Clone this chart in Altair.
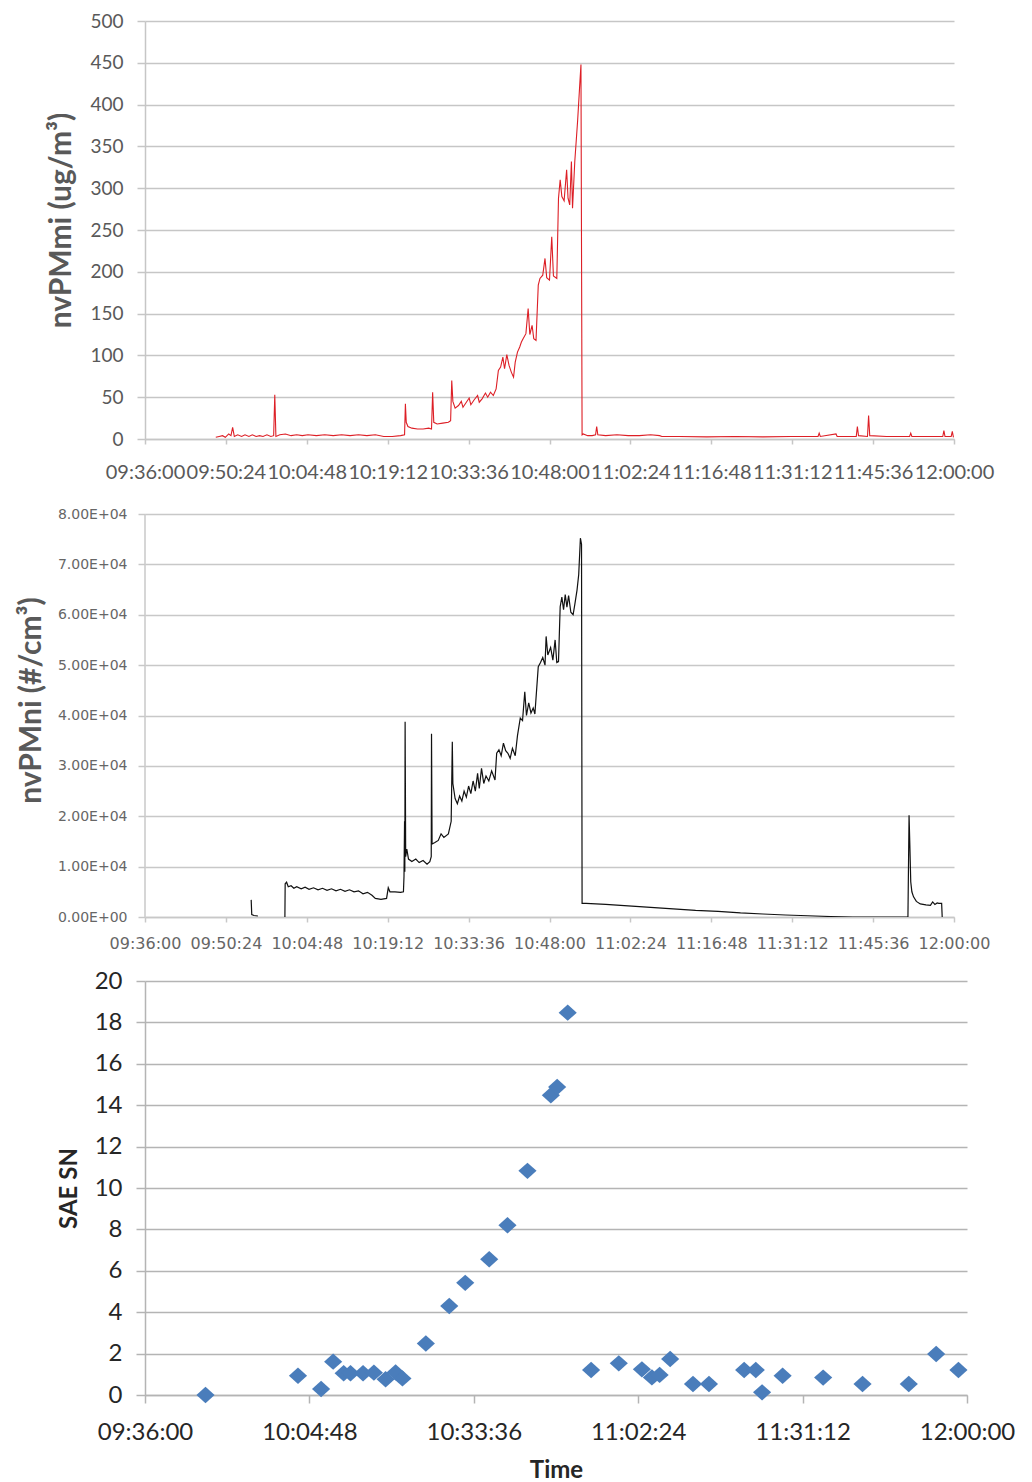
import json
import altair as alt
import pandas as pd

# ---------------- data (time = minutes after 09:36:00) ----------------
# Panel 1: nvPMmi (ug/m3)
mi_time = [12.6, 13.2, 13.8, 14.3, 14.9, 15.3, 15.6, 15.9, 16.5, 17.2, 17.8, 18.5, 19.1, 19.8,
           20.4, 21.0, 21.7, 22.4, 22.9, 23.1, 23.3, 24.0, 25.0, 26.0, 27.0, 28.0, 29.0, 30.5,
           32.0, 33.5, 35.0, 36.5, 38.0, 39.5, 41.0, 42.5, 44.0, 45.5, 46.2, 46.35, 46.5, 46.8,
           47.5, 48.5, 49.5, 50.5, 51.0, 51.2, 51.4, 52.0, 53.0, 54.0, 54.4, 54.6, 54.8, 55.2,
           55.8, 56.3, 56.6, 57.2, 57.7, 58.0, 58.6, 59.2, 59.5, 60.0, 60.6, 61.0, 61.5, 62.0,
           62.5, 62.9, 63.3, 63.7, 64.0, 64.4, 64.8, 65.2, 65.6, 65.9, 66.3, 66.7, 67.0, 67.3,
           67.8, 68.2, 68.5, 68.9, 69.2, 69.6, 70.0, 70.3, 70.8, 71.2, 71.5, 72.0, 72.4, 72.7,
           73.3, 73.6, 73.9, 74.2, 74.6, 75.05, 75.3, 75.6, 75.9, 76.1, 76.5, 77.0, 77.35, 77.6,
           77.8, 78.0, 78.8, 79.6, 80.2, 80.4, 80.6, 82.0, 84.0, 86.0, 88.0, 90.0, 91.6, 92.0,
           95.0, 100.0, 105.0, 110.0, 115.0, 119.8, 120.0, 120.2, 123.0, 123.2, 123.4, 126.6,
           126.8, 127.0, 128.6, 128.8, 129.0, 132.0, 136.1, 136.3, 136.5, 140.0, 142.0, 142.2,
           142.4, 143.5, 143.7, 143.9]
mi_value = [2, 3, 4, 2, 6, 4, 14, 3, 5, 3, 5, 3, 5, 3,
            4, 3, 5, 3, 4, 53, 3, 5, 6, 4, 5, 4, 5, 4,
            5, 4, 5, 4, 5, 4, 5, 3, 3, 4, 5, 42, 20, 15,
            13, 12, 12, 13, 12, 56, 20, 18, 19, 20, 22, 70, 45, 37,
            40, 45, 38, 44, 49, 41, 47, 52, 44, 48, 55, 50, 56, 52,
            60, 82, 86, 98, 84, 101, 88, 80, 74, 92, 104, 110, 116, 120,
            126, 156, 125, 136, 120, 118, 184, 192, 196, 216, 193, 190, 242, 195,
            192, 288, 310, 290, 285, 322, 288, 280, 332, 276, 332, 380, 420, 448,
            5, 6, 4, 4, 5, 15, 5, 4, 5, 4, 4, 5, 4, 3,
            3, 2.5, 3, 2.5, 3, 3, 7, 3, 6, 3, 3, 3,
            15, 4, 3, 28, 4, 3, 3, 7, 3, 3, 3, 10,
            3, 3, 9, 2]

# Panel 2: nvPMni (#/cm3); segment 1 = short early trace, 2 = main trace
ni_time = [18.9, 19.0, 19.4, 20.1,
           24.9, 24.95, 25.2, 25.5, 26.0, 26.5, 27.0, 27.8, 28.5, 29.2, 30.0, 30.8, 31.6, 32.4,
           33.2, 34.0, 34.8, 35.6, 36.4, 37.2, 38.0, 38.8, 39.6, 40.4, 41.0, 42.0, 43.0, 43.3,
           43.6, 44.5, 45.5, 46.0, 46.1, 46.2, 46.25, 46.3, 46.4, 46.6, 46.9, 47.5, 48.2, 48.8,
           49.5, 50.2, 50.7, 50.95, 51.0, 51.1, 51.6, 52.2, 52.7, 53.2, 54.0, 54.5, 54.7, 54.8,
           55.2, 55.6, 56.0, 56.4, 56.8, 57.2, 57.6, 58.0, 58.4, 58.8, 59.2, 59.5, 59.9, 60.3,
           60.7, 61.2, 61.7, 62.3, 62.6, 63.0, 63.4, 63.8, 64.2, 64.6, 65.0, 65.4, 65.9, 66.3,
           66.8, 67.2, 67.6, 67.9, 68.3, 68.7, 69.1, 69.4, 70.0, 70.4, 70.8, 71.2, 71.4, 71.7,
           72.2, 72.6, 73.0, 73.3, 73.6, 73.9, 74.2, 74.5, 74.8, 75.1, 75.4, 75.8, 76.2, 76.5,
           76.9, 77.2, 77.5, 77.7, 77.8, 78.5, 82.0, 86.0, 90.0, 94.0, 98.0, 102.0, 106.0, 110.0,
           114.0, 118.0, 122.0, 126.0, 130.0, 135.8, 136.0, 136.15, 136.3, 136.5, 136.8, 137.3,
           138.0, 139.0, 139.8, 140.2, 140.6, 141.0, 141.3, 141.8, 141.9]
ni_value = [3400, 500, 300, 200,
            0, 6600, 6900, 6000, 6200, 5700, 6000, 5600, 5900, 5500, 5800, 5400, 5700, 5300,
            5600, 5200, 5500, 5100, 5400, 5000, 5200, 4600, 4900, 4300, 3700, 3500, 3700, 5800,
            5000, 5000, 4900, 5000, 8000, 19000, 9000, 38750, 12000, 13500, 11500, 11000, 11500, 10800,
            11200, 10500, 11000, 12000, 36400, 14500, 14800, 15200, 16500, 15800, 16500, 19000, 34800, 26500,
            23500, 22500, 24000, 23000, 25000, 23800, 26000, 24500, 27000, 25000, 28500, 25500, 29500, 26500,
            28000, 27000, 29000, 27200, 32500, 33200, 32000, 34500, 33000, 32500, 31500, 33500, 32000, 36000,
            39500, 39000, 44700, 40000, 42500, 40500, 41500, 40300, 49700, 50500, 51500, 50000, 55700, 52000,
            53500, 51000, 55000, 50500, 50700, 61600, 63500, 61000, 64000, 61500, 63800, 60500, 60000, 62000,
            64900, 68000, 75200, 74000, 2700, 2700, 2500, 2200, 1900, 1600, 1300, 1100, 800, 600,
            400, 250, 100, 0, 0, 0, 20200, 13900, 7000, 5000, 4000, 3100,
            2600, 2400, 2300, 3000, 2500, 2800, 2700, 2700, 0]
ni_segment = [1] * 4 + [2] * (len(ni_time) - 4)

# Panel 3: SAE SN
sn_time = [10.6, 26.8, 30.85, 32.96, 34.8, 36.0, 38.2, 40.1, 42.15, 43.9, 45.1, 49.2, 53.3,
           56.1, 60.3, 63.5, 67.0, 71.1, 72.2, 74.05, 78.15, 83.0, 87.05, 88.8, 90.15, 92.0,
           96.0, 98.8, 104.96, 107.0, 108.1, 111.7, 118.8, 125.7, 133.8, 138.6, 142.5]
sn_value = [0.0, 0.93, 0.29, 1.61, 1.05, 1.05, 1.05, 1.08, 0.76, 1.09, 0.8, 2.49, 4.3,
            5.42, 6.56, 8.2, 10.83, 14.48, 14.88, 18.47, 1.21, 1.53, 1.24, 0.85, 0.97, 1.74,
            0.53, 0.53, 1.21, 1.21, 0.13, 0.93, 0.84, 0.53, 0.53, 1.98, 1.21]

# ticks / labels
x_ticks_fine = [0, 14.4, 28.8, 43.2, 57.6, 72.0, 86.4, 100.8, 115.2, 129.6, 144.0]
x_labels_fine = ["09:36:00", "09:50:24", "10:04:48", "10:19:12", "10:33:36", "10:48:00",
                 "11:02:24", "11:16:48", "11:31:12", "11:45:36", "12:00:00"]
x_ticks_coarse = [0, 28.8, 57.6, 86.4, 115.2, 144.0]
x_labels_coarse = ["09:36:00", "10:04:48", "10:33:36", "11:02:24", "11:31:12", "12:00:00"]
mi_ticks = [0, 50, 100, 150, 200, 250, 300, 350, 400, 450, 500]
ni_ticks = [0, 10000, 20000, 30000, 40000, 50000, 60000, 70000, 80000]
ni_labels = ["0.00E+00", "1.00E+04", "2.00E+04", "3.00E+04", "4.00E+04",
             "5.00E+04", "6.00E+04", "7.00E+04", "8.00E+04"]
sn_ticks = [0, 2, 4, 6, 8, 10, 12, 14, 16, 18, 20]

df1 = pd.DataFrame({"t": mi_time, "v": mi_value, "i": range(len(mi_time))})
df2 = pd.DataFrame({"t": ni_time, "v": ni_value, "seg": ni_segment, "i": range(len(ni_time))})
df3 = pd.DataFrame({"t": sn_time, "v": sn_value})

fine_expr = json.dumps(x_labels_fine) + "[round(datum.value / 14.4)]"
coarse_expr = json.dumps(x_labels_coarse) + "[round(datum.value / 28.8)]"
ni_expr = json.dumps(ni_labels) + "[round(datum.value / 10000)]"

GRID1 = "#c6c6c6"
TXT1 = "#595959"

# ---------------- panel 1 ----------------
p1 = alt.Chart(df1).mark_line(color="#dd1f26", strokeWidth=1.1, clip=True).encode(
    x=alt.X("t:Q", scale=alt.Scale(domain=[0, 144], nice=False, zero=False),
            axis=alt.Axis(values=x_ticks_fine, labelExpr=fine_expr, title=None, grid=False,
                          domainColor=GRID1, domainWidth=1.5, tickColor=GRID1, tickWidth=1.5,
                          tickSize=5, labelFont="Lato", labelFontSize=20, labelColor=TXT1,
                          labelPadding=18, labelOverlap=False, labelFlush=False)),
    y=alt.Y("v:Q", scale=alt.Scale(domain=[0, 500], nice=False),
            axis=alt.Axis(values=mi_ticks, grid=True, gridColor=GRID1, gridWidth=1.5,
                          domainColor=GRID1, domainWidth=1.5, tickColor=GRID1, tickWidth=1.5,
                          tickSize=8, labelFont="Lato", labelFontSize=19, labelColor=TXT1,
                          labelPadding=14, labelOverlap=False,
                          title="nvPMmi (ug/m³)", titleFont="Lato", titleFontSize=30,
                          titleFontWeight="bold", titleColor=TXT1, titleAngle=270,
                          titleBaseline="middle", titleX=-84, titleY=199)),
    order=alt.Order("i:Q"),
).properties(width=809, height=418)

# ---------------- panel 2 ----------------
GRID2 = "#c8c8c8"
TXT2 = "#666666"
NI_TOP = 80000 * 414 / 403
line2 = alt.Chart(df2).mark_line(color="#111111", strokeWidth=1.2, clip=True).encode(
    x=alt.X("t:Q", scale=alt.Scale(domain=[0, 144], nice=False, zero=False),
            axis=alt.Axis(values=x_ticks_fine, labelExpr=fine_expr, title=None, grid=False,
                          domainColor=GRID2, domainWidth=1.5, tickColor=GRID2, tickWidth=1.5,
                          tickSize=5, labelFont="DejaVu Sans", labelFontSize=16, labelColor=TXT2,
                          labelPadding=13, labelOverlap=False, labelFlush=False)),
    y=alt.Y("v:Q", scale=alt.Scale(domain=[0, NI_TOP], nice=False),
            axis=alt.Axis(values=ni_ticks, labelExpr=ni_expr, grid=True, gridColor=GRID2,
                          gridWidth=1.5, domain=False, tickColor=GRID2, tickWidth=1.5,
                          tickSize=7, labelFont="DejaVu Sans", labelFontSize=14, labelColor=TXT2,
                          labelPadding=11, labelOverlap=False,
                          title="nvPMni (#/cm³)", titleFont="Lato", titleFontSize=30,
                          titleFontWeight="bold", titleColor=TXT1, titleAngle=270,
                          titleBaseline="middle", titleX=-114, titleY=197)),
    detail="seg:N",
    order=alt.Order("i:Q"),
)
axis2 = alt.Chart(pd.DataFrame({"a": [0]})).mark_rule(color=GRID2, strokeWidth=1.5).encode(
    x=alt.value(0), y=alt.datum(0), y2=alt.datum(80000))
p2 = alt.layer(axis2, line2).properties(width=809, height=414)

# ---------------- panel 3 ----------------
GRID3 = "#b4b4b4"
TXT3 = "#262626"
p3 = alt.Chart(df3).mark_point(
    shape="M-1,0L0,-0.9L1,0L0,0.9Z", filled=True, size=330, color="#4a7dbb", opacity=1
).encode(
    x=alt.X("t:Q", scale=alt.Scale(domain=[0, 144], nice=False, zero=False),
            axis=alt.Axis(values=x_ticks_coarse, labelExpr=coarse_expr, grid=False,
                          domainColor=GRID3, domainWidth=1.5, tickColor=GRID3, tickWidth=1.5,
                          tickSize=8, labelFont="Lato", labelFontSize=24, labelColor=TXT3,
                          labelPadding=17, labelOverlap=False, labelFlush=False,
                          title="Time", titleFont="Lato", titleFontSize=24,
                          titleFontWeight="bold", titleColor=TXT3, titleBaseline="middle",
                          titleY=75)),
    y=alt.Y("v:Q", scale=alt.Scale(domain=[0, 20], nice=False),
            axis=alt.Axis(values=sn_ticks, grid=True, gridColor=GRID3, gridWidth=1.5,
                          domainColor=GRID3, domainWidth=1.5, tickColor=GRID3, tickWidth=1.5,
                          tickSize=9, labelFont="Lato", labelFontSize=24, labelColor=TXT3,
                          labelPadding=14, labelOverlap=False,
                          title="SAE SN", titleFont="Lato", titleFontSize=24,
                          titleFontWeight="bold", titleColor=TXT3, titleAngle=270,
                          titleBaseline="middle", titleX=-76, titleY=207)),
).properties(width=822, height=414)

chart = alt.vconcat(p1, p2, p3, spacing=64, bounds="flush").properties(
    padding={"left": 8, "top": 4, "right": 5, "bottom": 0},
    background="white",
).configure_view(strokeWidth=0, strokeOpacity=0)

chart.save("out.html", embed_options={"renderer": "svg", "actions": False})
